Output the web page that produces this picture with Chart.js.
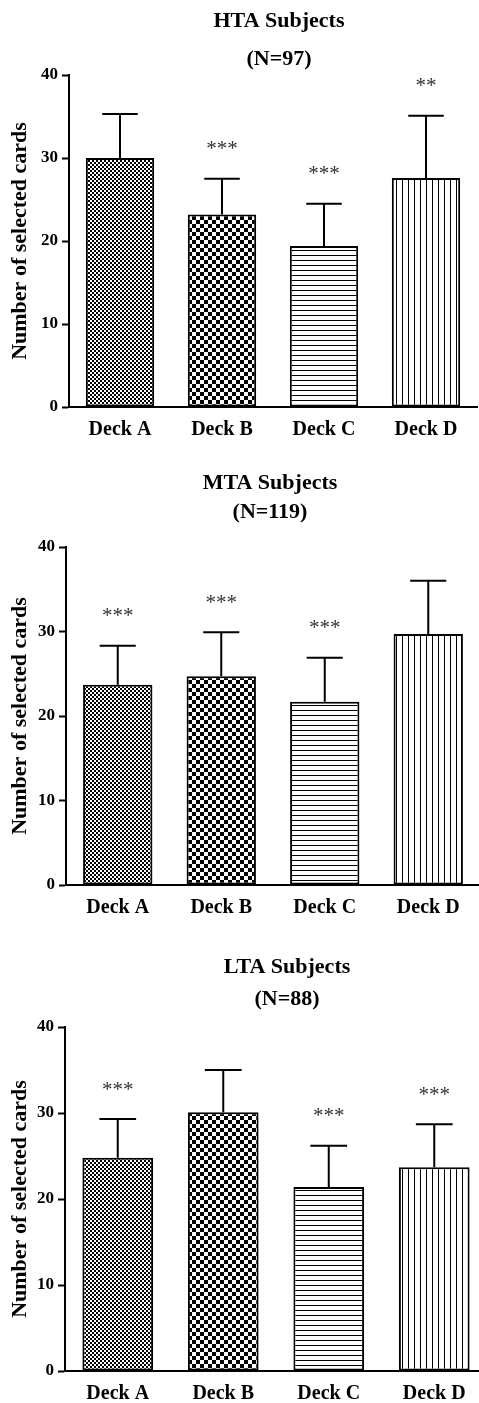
<!DOCTYPE html>
<html>
<head>
<meta charset="utf-8">
<title>Deck selection by anxiety group</title>
<script src="https://cdn.jsdelivr.net/npm/chart.js@4.4.1/dist/chart.umd.min.js"></script>
<style>
  body { margin: 0; background: #fff; width: 479px; height: 1403px; overflow: hidden; position: relative; }
  canvas { position: absolute; left: 0; }
</style>
</head>
<body>
<canvas id="hta" width="490" height="460" style="top:0"></canvas>
<canvas id="mta" width="490" height="480" style="top:460px"></canvas>
<canvas id="lta" width="490" height="463" style="top:940px"></canvas>
<script>
// Data (means and upper SD bars)
const decks = ['Deck A', 'Deck B', 'Deck C', 'Deck D'];
const yTicks = [0, 10, 20, 30, 40];

const htaMeans = [30.0, 23.2, 19.4, 27.6];
const htaSD = [5.3, 4.3, 5.1, 7.5];
const htaStars = ['', '***', '***', '**'];

const mtaMeans = [23.7, 24.7, 21.7, 29.7];
const mtaSD = [4.6, 5.2, 5.2, 6.3];
const mtaStars = ['***', '***', '***', ''];

const ltaMeans = [24.8, 30.1, 21.4, 23.7];
const ltaSD = [4.5, 4.9, 4.8, 5.0];
const ltaStars = ['***', '', '***', '***'];

const SERIF = '"Liberation Serif", "Times New Roman", serif';

// Fill patterns: fine checks, coarse checks, horizontal lines, vertical lines
function makePatterns(ctx) {
    function tile(w, h, paint) {
        const c = document.createElement('canvas');
        c.width = w; c.height = h;
        const g = c.getContext('2d');
        g.fillStyle = '#fff';
        g.fillRect(0, 0, w, h);
        g.fillStyle = '#000';
        paint(g);
        return ctx.createPattern(c, 'repeat');
    }
    return [
        tile(4, 4, g => { g.fillRect(0, 0, 2, 2); g.fillRect(2, 2, 2, 2); }),
        tile(8, 8, g => { g.fillRect(0, 0, 4, 4); g.fillRect(4, 4, 4, 4); }),
        tile(8, 5, g => { g.fillRect(0, 0, 8, 1); }),
        tile(6, 8, g => { g.fillRect(0, 0, 1, 8); })
    ];
}

// error bars, significance stars and the two-line heading
function extrasPlugin(means, sds, stars, title, titleX, titleY) {
    return {
        id: 'extras',
        afterDatasetsDraw(chart) {
            const ctx = chart.ctx;
            const y = chart.scales.y;
            const bars = chart.getDatasetMeta(0).data;
            ctx.save();
            ctx.strokeStyle = '#000';
            ctx.lineWidth = 2;
            ctx.textAlign = 'center';
            ctx.textBaseline = 'middle';
            bars.forEach((bar, i) => {
                const top = y.getPixelForValue(means[i] + sds[i]);
                const half = bar.width * 0.26;
                ctx.beginPath();
                ctx.moveTo(bar.x, bar.y);
                ctx.lineTo(bar.x, top);
                ctx.moveTo(bar.x - half, top);
                ctx.lineTo(bar.x + half, top);
                ctx.stroke();
                if (stars[i]) {
                    ctx.fillStyle = '#333';
                    ctx.font = '21px ' + SERIF;
                    ctx.fillText(stars[i], bar.x, top - 29);
                }
            });
            ctx.fillStyle = '#000';
            ctx.font = 'bold 22px ' + SERIF;
            title.forEach((t, k) => ctx.fillText(t, titleX, titleY[k]));
            ctx.restore();
        }
    };
}

function drawPanel(id, means, sds, stars, title, geo) {
    const canvas = document.getElementById(id);
    const ctx = canvas.getContext('2d');
    return new Chart(ctx, {
        type: 'bar',
        data: {
            labels: decks,
            datasets: [{
                data: means,
                backgroundColor: makePatterns(ctx),
                borderColor: '#000',
                borderWidth: 2,
                borderSkipped: false,
                barPercentage: 0.67,
                categoryPercentage: 1
            }]
        },
        options: {
            responsive: false,
            animation: false,
            layout: { padding: { left: 0, right: geo.right, top: geo.top, bottom: geo.bottom } },
            plugins: { legend: { display: false }, tooltip: { enabled: false } },
            scales: {
                x: {
                    grid: { display: false, drawTicks: false },
                    border: { display: true, width: 2, color: '#000' },
                    ticks: { color: '#000', padding: 11, font: { family: SERIF, size: 20, weight: 'bold' } },
                    afterFit: s => { s.height = 30; }
                },
                y: {
                    min: 0,
                    max: 40,
                    afterBuildTicks: s => { s.ticks = yTicks.map(v => ({ value: v })); },
                    grid: { drawOnChartArea: false, drawTicks: true, tickLength: 7, tickWidth: 2, color: '#000' },
                    border: { display: true, width: 2, color: '#000' },
                    ticks: { color: '#000', padding: 4, font: { family: SERIF, size: 17, weight: 'bold' } },
                    title: {
                        display: true,
                        text: 'Number of selected cards',
                        color: '#000',
                        padding: { top: 7, bottom: 0 },
                        font: { family: SERIF, size: 22, weight: 'bold' }
                    },
                    afterFit: s => { s.width = geo.left; }
                }
            }
        },
        plugins: [extrasPlugin(means, sds, stars, title, geo.titleX, geo.titleY)]
    });
}

drawPanel('hta', htaMeans, htaSD, htaStars, ['HTA Subjects', '(N=97)'],
    { left: 69, right: 13, top: 75, bottom: 23, titleX: 279, titleY: [21, 59] });
drawPanel('mta', mtaMeans, mtaSD, mtaStars, ['MTA Subjects', '(N=119)'],
    { left: 66, right: 10, top: 87, bottom: 25, titleX: 270, titleY: [23, 52] });
drawPanel('lta', ltaMeans, ltaSD, ltaStars, ['LTA Subjects', '(N=88)'],
    { left: 65, right: 3, top: 87, bottom: 2, titleX: 287, titleY: [27, 59] });
</script>
</body>
</html>
